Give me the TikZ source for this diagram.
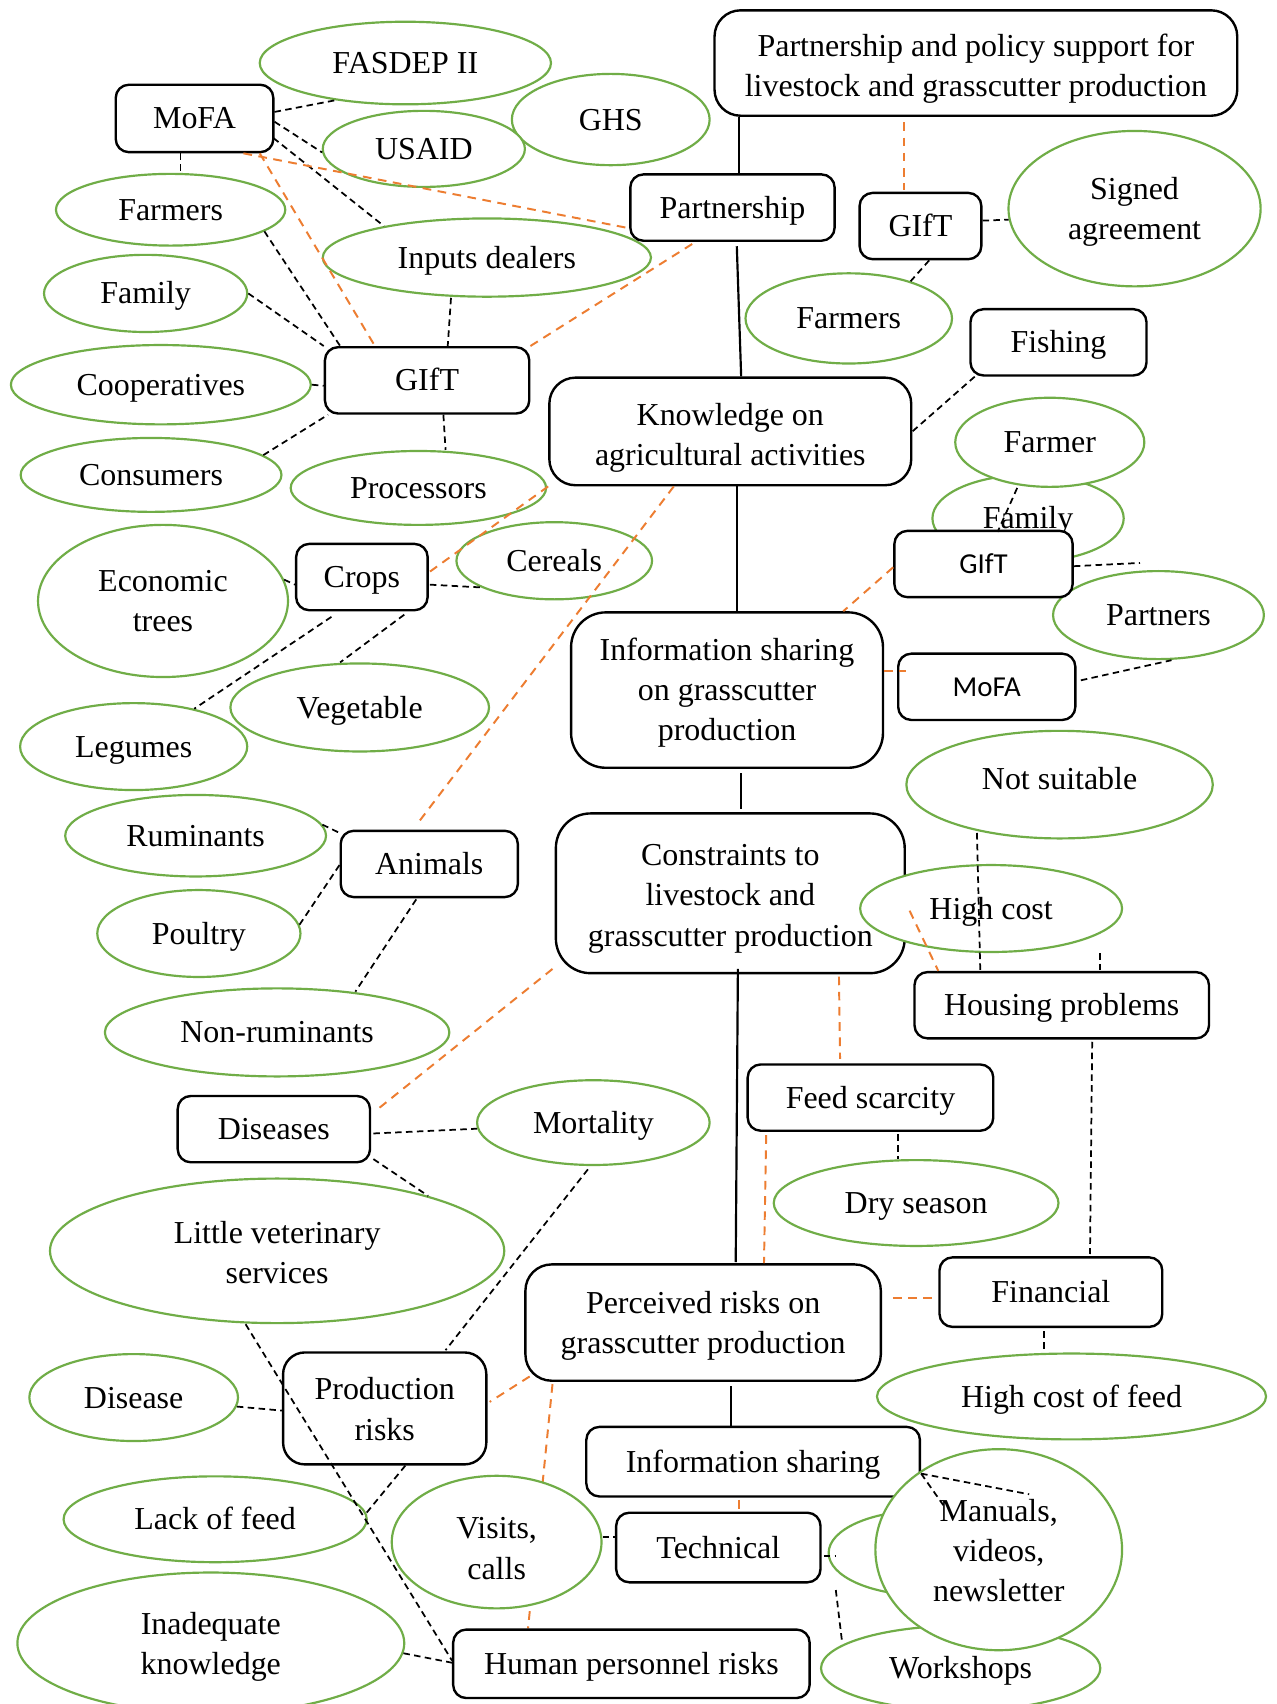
\documentclass[tikz,border=0pt]{standalone}
\usepackage{fontspec}
\setmainfont{Liberation Serif}
\newfontfamily\sansf{Carlito}
\usetikzlibrary{shapes.geometric}
\definecolor{eg}{HTML}{70AD47}
\definecolor{eo}{HTML}{ED7D31}
\newcommand\lnstrut{\rule[-0.24em]{0pt}{1.14em}}
\newcommand\topgap[1]{\rule{0pt}{\dimexpr0.9em+#1\relax}}
\pgfdeclarelayer{back}
\pgfdeclarelayer{behind}
\pgfsetlayers{back,behind,main}
\begin{document}
\begin{tikzpicture}[x=0.5pt,y=-0.5pt,
  txt/.style={font=\fontsize{14.7}{18.5}\selectfont, align=center, execute at begin node=\lnstrut, execute at end node=\lnstrut},
  sanstxt/.style={font=\sansf\fontsize{13.3}{16}\selectfont},
  rbox/.style 2 args={txt, draw=black, line width=1.1pt, fill=white, rounded corners=6pt, inner sep=0pt, minimum width=#1*0.5pt, minimum height=#2*0.5pt},
  gell/.style 2 args={txt, ellipse, draw=eg, line width=1pt, fill=white, inner sep=0pt, minimum width=#1*0.5pt, minimum height=#2*0.5pt},
  dl/.style={black, line width=0.8pt, dash pattern=on 3pt off 2pt},
  ol/.style={eo, line width=0.9pt, dash pattern=on 4pt off 3pt},
  sl/.style={black, line width=1pt}]
\begin{pgfonlayer}{back}
\fill[white] (0,0) rectangle (1175,1568);
\end{pgfonlayer}
\useasboundingbox (0,0) rectangle (1175,1568);

% ---------- top left cluster ----------
\node[gell={268}{76}] (fasdep) at (373,58) {FASDEP II};
\node[gell={182}{84}] (ghs) at (562,110) {GHS};
\node[gell={186}{70}] (usaid) at (390,137) {USAID};
\node[rbox={145}{62}] (mofa) at (179,109) {MoFA};
\node[gell={211}{66}] (farmersl) at (157,193) {Farmers};
\node[gell={302}{72}] (inputs) at (448,237) {Inputs dealers};
\node[gell={187}{71}] (familyl) at (134,270) {Family};
\node[gell={276}{73}] (coops) at (148,354) {Cooperatives};
\node[gell={240}{68}] (consumers) at (139,437) {Consumers};
\node[gell={235}{68}] (processors) at (385,449) {Processors};
\node[rbox={188}{61}] (giftl) at (393,350) {GIfT};

% ---------- top right cluster ----------
\node[rbox={481}{97}, rounded corners=12pt] (psupport) at (898,58) {\topgap{2.9pt}Partnership and policy support for\\livestock and grasscutter production};
\node[rbox={188}{61}] (partnership) at (674,191) {Partnership};
\node[rbox={112}{61}] (giftr) at (847,208) {GIfT};
\node[gell={232}{143}] (signed) at (1044,192) {\topgap{0pt}Signed\\agreement};
\node[gell={190}{83}] (farmersr) at (781,293) {Farmers};
\node[rbox={162}{61}] (fishing) at (974,315) {Fishing};
\node[rbox={333}{99}, rounded corners=12pt] (know) at (672,397) {\topgap{2.9pt}Knowledge on\\agricultural activities};
\node[gell={176}{80}] (familyr) at (946,477) {Family};
\node[gell={174}{82}] (farmer) at (966,407) {Farmer};
\node[gell={194}{81}] (partners) at (1066,566) {Partners};
\node[rbox={164}{61}, sanstxt] (gifts) at (905,519) {GIfT};
\node[rbox={163}{61}, sanstxt] (mofas) at (908,632) {MoFA};
\node[rbox={287}{143}, rounded corners=16pt] (infosh) at (669,635) {\topgap{0pt}Information sharing\\on grasscutter\\production};

% ---------- crops & animals ----------
\node[gell={230}{140}] (econ) at (150,553) {\topgap{0pt}Economic\\trees};
\node[rbox={121}{61}] (crops) at (333,531) {Crops};
\node[gell={180}{71}] (cereals) at (510,516) {Cereals};
\node[gell={238}{81}] (vegetable) at (331,651) {Vegetable};
\node[gell={209}{80}] (legumes) at (123,687) {Legumes};
\node[gell={240}{75}] (ruminants) at (180,769) {Ruminants};
\node[rbox={163}{61}] (animals) at (395,795) {Animals};
\node[gell={187}{80}] (poultry) at (183,859) {Poultry};
\node[gell={317}{81}] (nonrum) at (255,950) {Non-ruminants};

% ---------- constraints ----------
\node[gell={282}{99}] (notsuit) at (975,722) {\raisebox{2.5pt}{Not suitable}};
\node[rbox={321}{147}, rounded corners=16pt] (constr) at (672,822) {\topgap{1.9pt}Constraints to\\livestock and\\grasscutter production};
\node[gell={241}{80}] (highcost) at (912,836) {High cost};
\node[rbox={271}{61}] (housing) at (977,925) {Housing problems};
\node[rbox={226}{61}] (feed) at (801,1010) {Feed scarcity};
\node[gell={262}{79}] (dryseason) at (843,1107) {Dry season};
\node[rbox={177}{61}] (diseases) at (252,1039) {Diseases};
\node[gell={214}{78}] (mortality) at (546,1033) {Mortality};
\node[gell={418}{133}] (littlevet) at (255,1151) {\topgap{1.9pt}Little veterinary\\services};

% ---------- risks ----------
\node[rbox={205}{64}] (financial) at (967,1189) {Financial};
\node[gell={358}{79}] (hcfeed) at (986,1285) {High cost of feed};
\node[rbox={327}{107}, rounded corners=12pt] (perceived) at (647,1217) {\topgap{0pt}Perceived risks on\\grasscutter production};
\node[rbox={187}{103}, rounded corners=10pt] (prodrisks) at (354,1296) {\topgap{0.9pt}Production\\risks};
\node[gell={192}{80}] (disease) at (123,1286) {Disease};
\node[gell={279}{79}] (lackfeed) at (198,1398) {Lack of feed};
\node[gell={193}{122}] (visits) at (457,1419) {\topgap{5.9pt}Visits,\\calls};
\node[rbox={307}{64}] (infosh2) at (693,1345) {Information sharing};
\node[rbox={188}{64}] (technical) at (661,1424) {Technical};
\node[gell={175}{78}] (emptyell) at (850,1429) {};
\node[gell={257}{78}] (workshops) at (884,1535) {Workshops};
\node[gell={227}{185}] (manuals) at (919,1426) {\topgap{0.9pt}Manuals,\\videos,\\newsletter};
\node[gell={356}{130}] (inadequate) at (194,1512) {\topgap{0.9pt}Inadequate\\knowledge};
\node[rbox={328}{63}] (human) at (581,1531) {Human personnel risks};

\coordinate (gsend) at (1049,518);
\coordinate (hcdash) at (1012,877);

% ---------- hidden connector (behind Visits) ----------
\begin{pgfonlayer}{behind}
\draw[ol] ([shift={(26,2)}]perceived.south west) -- ([shift={(70,0)}]human.north west);
\end{pgfonlayer}

% ---------- solid spine ----------
\draw[sl] ([shift={(-218,0)}]psupport.south) -- ([shift={(6,0)}]partnership.north);
\draw[sl] ([shift={(4,4)}]partnership.south) -- ([shift={(10,0)}]know.north);
\draw[sl] ([shift={(6,0)}]know.south) -- ([shift={(9,0)}]infosh.north);
\draw[sl] ([shift={(13,4)}]infosh.south) -- ([shift={(10,-3)}]constr.north);
\draw[sl] ([shift={(7,-5)}]constr.south) -- ([shift={(30,-1)}]perceived.north);
\draw[sl] ([shift={(26,4)}]perceived.south) -- ([shift={(-20,0)}]infosh2.north);

% ---------- black dashed ----------
\draw[dl] ([shift={(0,-6)}]mofa.east) -- (fasdep.208);
\draw[dl] ([shift={(0,3)}]mofa.east) -- (usaid.182);
\draw[dl] ([shift={(-1,18)}]mofa.east) -- (inputs.163);
\draw[dl] ([shift={(-13,0)}]mofa.south) -- ([shift={(9,0)}]farmersl.north);
\draw[dl] (farmersl.-13) -- ([shift={(-80,0)}]giftl.north);
\draw[dl] (familyl.east) -- (giftl.north west);
\draw[dl] (coops.east) -- ([shift={(0,5)}]giftl.west);
\draw[dl] (consumers.10) -- ([shift={(4,0)}]giftl.south west);
\draw[dl] ([shift={(-33,0)}]inputs.south) -- ([shift={(19,0)}]giftl.north);
\draw[dl] ([shift={(15,0)}]giftl.south) -- ([shift={(25,0)}]processors.north);
\draw[dl] ([shift={(0,-5)}]giftr.east) -- (signed.185.5);
\draw[dl] ([shift={(8,0)}]giftr.south) -- (farmersr.31);
\draw[dl] ([shift={(5,0)}]fishing.south west) -- (know.east);
\draw[dl] ([shift={(-30,0)}]farmer.south) -- ([shift={(13,2)}]gifts.north);
\draw[dl] ([shift={(0,2)}]gifts.east) -- (gsend);
\draw[dl] ([shift={(4,-6)}]mofas.east) -- ([shift={(12,0)}]partners.south);
\draw[dl] ([shift={(1,7)}]crops.east) -- (cereals.200);
\draw[dl] (econ.10) -- ([shift={(0,7)}]crops.west);
\draw[dl] ([shift={(-28,5)}]crops.south) -- (legumes.32);
\draw[dl] ([shift={(39,3)}]crops.south) -- ([shift={(-18,0)}]vegetable.north);
\draw[dl] (ruminants.5) -- ([shift={(2,4)}]animals.north west);
\draw[dl] (poultry.5) -- ([shift={(0,1)}]animals.west);
\draw[dl] ([shift={(-12,1)}]animals.south) -- ([shift={(72,4)}]nonrum.north);
\draw[dl] ([shift={(-76,-6)}]notsuit.south) -- ([shift={(-75,-1)}]housing.north);
\draw[dl] (hcdash) -- ([shift={(35,1)}]housing.north);
\draw[dl] ([shift={(28,2)}]housing.south) -- ([shift={(36,-2)}]financial.north);
\draw[dl] ([shift={(25,2)}]feed.south) -- ([shift={(-17,0)}]dryseason.north);
\draw[dl] ([shift={(-6,3)}]financial.south) -- ([shift={(-25,0)}]hcfeed.north);
\draw[dl] ([shift={(2,4)}]diseases.east) -- (mortality.183);
\draw[dl] ([shift={(2,-4)}]diseases.south east) -- (littlevet.20);
\draw[dl] ([shift={(-5,3)}]mortality.south) -- ([shift={(56,-1)}]prodrisks.north);
\draw[dl] ([shift={(-29,0)}]littlevet.south) -- ([shift={(0,-3)}]human.west);
\draw[dl] (disease.-5) -- ([shift={(0,2)}]prodrisks.west);
\draw[dl] ([shift={(19,0)}]prodrisks.south) -- ([shift={(-2,-5)}]lackfeed.east);
\draw[dl] (inadequate.-3) -- ([shift={(0,-1)}]human.west);
\draw[dl] ([shift={(0,-5)}]visits.east) -- ([shift={(0,-10)}]technical.west);
\draw[dl] ([shift={(2,8)}]technical.east) -- ([shift={(7,3)}]emptyell.west);
\draw[dl] ([shift={(0,11)}]infosh2.east) -- ([shift={(28,-51)}]manuals.center);
\draw[dl] ([shift={(0,11)}]infosh2.east) -- ([shift={(-51,-41)}]manuals.center);
\draw[dl] ([shift={(13,6)}]technical.south east) -- ([shift={(-109,-23)}]workshops.center);

% ---------- orange dashed ----------
\draw[ol] ([shift={(60,0)}]mofa.south) -- ([shift={(-48,0)}]giftl.north);
\draw[ol] ([shift={(45,0)}]mofa.south) -- ([shift={(0,19)}]partnership.west);
\draw[ol] (giftl.north east) -- ([shift={(-34,0)}]partnership.south);
\draw[ol] ([shift={(-66,5)}]psupport.south) -- ([shift={(-15,-2)}]giftr.north);
\draw[ol] ([shift={(0,3)}]gifts.west) -- ([shift={(107,0)}]infosh.north);
\draw[ol] ([shift={(0,-18)}]infosh.east) -- ([shift={(8,-15)}]mofas.west);
\draw[ol] ([shift={(-52,0)}]know.south) -- ([shift={(-12,-4)}]animals.north);
\draw[ol] (know.south west) -- ([shift={(1,-5)}]crops.east);
\draw[ol] ([shift={(-2,-5)}]constr.south west) -- ([shift={(5,14)}]diseases.north east);
\draw[ol] ([shift={(-75,2)}]highcost.center) -- ([shift={(23,0)}]housing.north west);
\draw[ol] ([shift={(100,2)}]constr.south) -- ([shift={(-28,-4)}]feed.north);
\draw[ol] ([shift={(-96,3)}]feed.south) -- ([shift={(56,0)}]perceived.north);
\draw[ol] ([shift={(10,-23)}]perceived.east) -- ([shift={(0,5)}]financial.west);
\draw[ol] ([shift={(5,-5)}]perceived.south west) -- ([shift={(2,-6)}]prodrisks.east);
\draw[ol] ([shift={(-13,2)}]infosh2.south) -- ([shift={(19,0)}]technical.north);
\end{tikzpicture}
\end{document}
